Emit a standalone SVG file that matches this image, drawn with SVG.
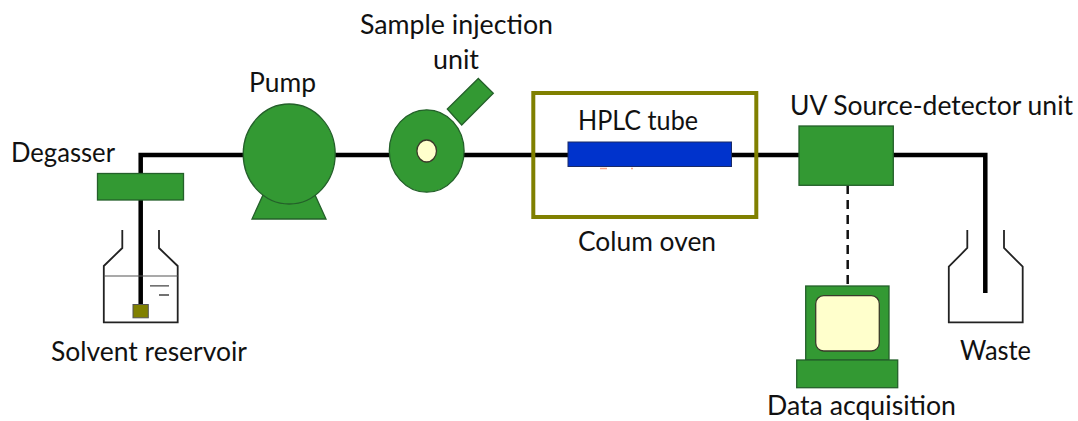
<svg xmlns="http://www.w3.org/2000/svg" width="1078" height="421" viewBox="0 0 1078 421">
<style>
text{font-family:Lato,"Liberation Sans",sans-serif;font-size:26px;fill:#111}
.g{fill:#339933;stroke:#24602a;stroke-width:1.3}
.pipe{fill:none;stroke:#000;stroke-width:4.5}
.glass{fill:none;stroke:#222;stroke-width:1.8}
.cream{fill:#ffffcc;stroke:#3a3a2a;stroke-width:1.3}
</style>
<rect width="1078" height="421" fill="#fff"/>
<g id="connectors">
<path class="pipe" d="M140.700 311V155H985.300V293"/>
<path d="M847.700 185V286" fill="none" stroke="#111" stroke-width="2.500" stroke-dasharray="9 6"/>
</g>
<g id="degasser">
<rect class="g" x="97.500" y="173.500" width="86" height="26.500"/>
<text x="11" y="161.500" textLength="104" lengthAdjust="spacingAndGlyphs">Degasser</text>
</g>
<g id="solvent-reservoir">
<path class="glass" d="M122.300 230V248L103.800 266V322.300H177.700V266L159 248V230"/>
<path d="M103.800 276H177.700" fill="none" stroke="#555" stroke-width="1.200"/>
<path d="M150 285.800H169M159 295H169" fill="none" stroke="#444" stroke-width="1.300"/>
<rect x="133" y="304.500" width="15.300" height="13.300" fill="#808000" stroke="#555" stroke-width="1"/>
<text x="51" y="360.500" textLength="196" lengthAdjust="spacingAndGlyphs">Solvent reservoir</text>
</g>
<g id="pump">
<path class="g" d="M263 195H315L326 219H252Z"/>
<ellipse class="g" cx="289.200" cy="154" rx="46" ry="50"/>
<text x="249" y="92" textLength="67" lengthAdjust="spacingAndGlyphs">Pump</text>
</g>
<g id="sample-injection-unit">
<path class="g" d="M478.300 78.500L493.300 93.300L461.700 125L447.300 109Z"/>
<ellipse class="g" cx="426.700" cy="151" rx="37.400" ry="41.200"/>
<ellipse class="cream" cx="426.700" cy="151" rx="9.800" ry="11"/>
<text x="360" y="34" textLength="193" lengthAdjust="spacingAndGlyphs">Sample injection</text>
<text x="433" y="68.500" textLength="46" lengthAdjust="spacingAndGlyphs">unit</text>
</g>
<g id="column-oven">
<rect x="533.300" y="93" width="223" height="124" fill="none" stroke="#808000" stroke-width="4"/>
<text x="578" y="250.500" textLength="138" lengthAdjust="spacingAndGlyphs">Colum oven</text>
</g>
<g id="hplc-tube">
<path d="M600 168.500H607M631 168.500H633" fill="none" stroke="#f5a58a" stroke-width="1.500"/>
<rect x="568" y="142" width="163.500" height="24.500" fill="#0033cc" stroke="#1a2a66" stroke-width="1"/>
<text x="578" y="130" textLength="120" lengthAdjust="spacingAndGlyphs">HPLC tube</text>
</g>
<g id="uv-detector">
<rect class="g" x="799" y="126" width="94.300" height="59.300"/>
<text x="790" y="115" textLength="283" lengthAdjust="spacingAndGlyphs">UV Source-detector unit</text>
</g>
<g id="data-acquisition">
<rect class="g" x="805.700" y="286" width="83.300" height="74"/>
<rect class="cream" x="815.700" y="295.700" width="63.600" height="55.300" rx="8"/>
<rect class="g" x="796.700" y="360" width="101" height="27.700"/>
<text x="767" y="414.500" textLength="189" lengthAdjust="spacingAndGlyphs">Data acquisition</text>
</g>
<g id="waste">
<path class="glass" d="M967.300 230V248L948.800 266.700V322.300H1022.700V266.700L1004 248V230"/>
<text x="960" y="359.500" textLength="71" lengthAdjust="spacingAndGlyphs">Waste</text>
</g>
</svg>
